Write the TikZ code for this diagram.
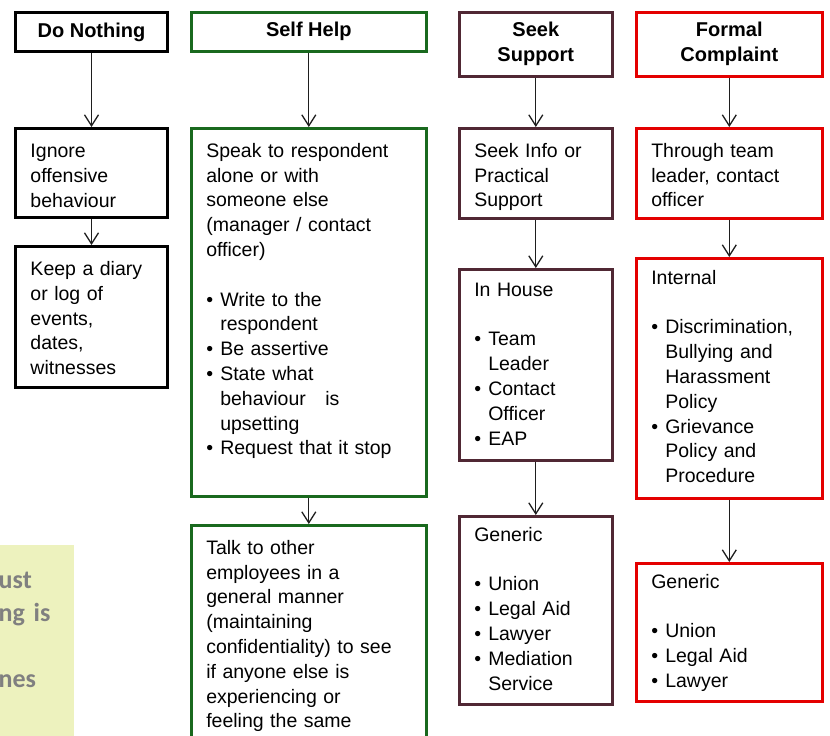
\documentclass[tikz,border=0pt]{standalone}
\usepackage{fontspec}
\setmainfont{Liberation Sans}
\newfontfamily\notefont{Carlito}
\usepackage{xcolor}
\usepackage{tikz}
\usetikzlibrary{arrows.meta, positioning}

\definecolor{helpgreen}{RGB}{25,105,30}
\definecolor{supportbrown}{RGB}{80,40,52}
\definecolor{formalred}{RGB}{228,0,0}
\definecolor{notefill}{RGB}{237,242,190}
\definecolor{notegray}{RGB}{128,128,128}
\definecolor{arrowgray}{RGB}{30,30,30}

\newcommand{\bul}{\makebox[14pt][l]{\textbullet}}
\newcommand{\ind}{\hspace*{14pt}}

\begin{document}
\begin{tikzpicture}[
            x=1pt, y=-1pt,
            head/.style={rectangle, draw, line width=2.6pt, anchor=north west, inner sep=0pt, align=center, font=\bfseries\fontsize{20}{25}\selectfont},
            box/.style={rectangle, draw, line width=2.6pt, anchor=north west, inner xsep=15pt, inner ysep=0pt, align=left, text height=29pt, font=\fontsize{19.5}{24.8}\selectfont},
            note/.style={rectangle, fill=notefill, anchor=north west, inner xsep=18.5pt, inner ysep=0pt, align=left, text width=57pt, text height=43pt, text depth=157pt, text=notegray, font=\notefont\bfseries\fontsize{26}{33}\selectfont},
            arrow/.style={-{Straight Barb[length=11pt, width=14pt]}, line width=1.3pt, draw=arrowgray}
        ]
            \useasboundingbox (0,0) rectangle (830,736);
            \clip (0,0) rectangle (830,736);

            \node[note] (note) at (-20,545) {ust\\ng is\\[33pt]nes};

            \node[head, draw=black, line width=3pt, minimum width=152pt, minimum height=39pt] (hdNothing) at (14,11)  {Do Nothing};
            \node[head, draw=helpgreen, minimum width=235pt, minimum height=39pt]    (hdSelf)    at (190,11) {Self Help};
            \node[head, draw=supportbrown, minimum width=153pt, minimum height=64pt] (hdSupport) at (458,11) {Seek\\Support};
            \node[head, draw=formalred, minimum width=186pt, minimum height=64pt]    (hdFormal)  at (635,11) {Formal\\Complaint};

            \node[box, draw=black, line width=3pt, text width=122pt, text depth=60pt]  (ignore) at (14,127) {Ignore\\offensive\\behaviour};
            \node[box, draw=black, line width=3pt, text width=122pt, text depth=112pt] (diary)  at (14,245) {Keep a diary\\or log of\\events,\\dates,\\witnesses};

            \node[box, draw=helpgreen, text width=205pt, text depth=339pt] (speak) at (190,127) {Speak to respondent\\alone or with\\someone else\\(manager / contact\\officer)\\[24.8pt]\bul Write to the\\\ind respondent\\\bul Be assertive\\\bul State what\\\ind behaviour\ \ \ is\\\ind upsetting\\\bul Request that it stop};
            \node[box, draw=helpgreen, text width=205pt, text depth=211pt] (talk)  at (190,524) {Talk to other\\employees in a\\general manner\\(maintaining\\confidentiality) to see\\if anyone else is\\experiencing or\\feeling the same};

            \node[box, draw=supportbrown, text width=123pt, text depth=61pt] (info) at (458,127) {Seek Info or\\Practical\\Support};
            \node[box, draw=supportbrown, text width=123pt, text height=27pt, text depth=164pt] (inhouse) at (458,268) {In House\\[24.8pt]\bul Team\\\ind Leader\\\bul Contact\\\ind Officer\\\bul EAP};
            \node[box, draw=supportbrown, text width=123pt, text height=25pt, text depth=163pt] (genSupport) at (458,515) {Generic\\[24.8pt]\bul Union\\\bul Legal Aid\\\bul Lawyer\\\bul Mediation\\\ind Service};

            \node[box, draw=formalred, text width=156pt, text depth=61pt] (through) at (635,127) {Through team\\leader, contact\\officer};
            \node[box, draw=formalred, text width=156pt, text height=26pt, text depth=214pt] (internal) at (635,257) {Internal\\[24.8pt]\bul Discrimination,\\\ind Bullying and\\\ind Harassment\\\ind Policy\\\bul Grievance\\\ind Policy and\\\ind Procedure};
            \node[box, draw=formalred, text width=156pt, text height=25pt, text depth=113pt] (genFormal) at (635,562) {Generic\\[24.8pt]\bul Union\\\bul Legal Aid\\\bul Lawyer};

            \draw[arrow] (hdNothing) -- (ignore);
            \draw[arrow] (ignore)    -- (diary);
            \draw[arrow] (hdSelf)    -- (speak);
            \draw[arrow] (speak)     -- (talk);
            \draw[arrow] (hdSupport) -- (info);
            \draw[arrow] (info)      -- (inhouse);
            \draw[arrow] (inhouse)   -- (genSupport);
            \draw[arrow] (hdFormal)  -- (through);
            \draw[arrow] (through)   -- (internal);
            \draw[arrow] (internal)  -- (genFormal);
        \end{tikzpicture}
\end{document}
